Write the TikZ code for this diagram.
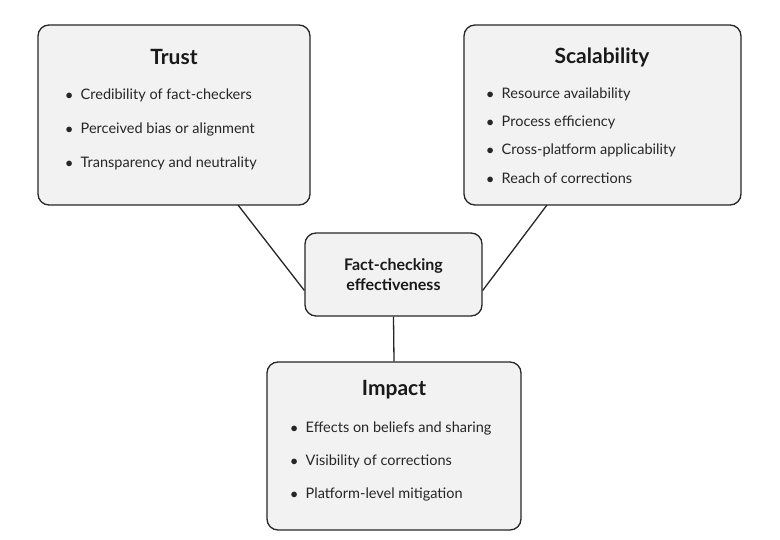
\documentclass[tikz,border=0pt]{standalone}
\usepackage{fontspec}
\setmainfont{Lato}
\begin{document}
\begin{tikzpicture}[x=1pt,y=-1pt,
 box/.style={draw=black!85,line width=1.3pt,fill=black!5,rounded corners=11pt,inner sep=0pt},
 title/.style={font=\bfseries\fontsize{21}{24}\selectfont,text=black!90},
 item/.style={font=\fontsize{14.5}{17}\selectfont,text=black!85,anchor=west},
 conn/.style={draw=black!85,line width=1.3pt}]
\useasboundingbox (0,0) rectangle (780,540);
\fill[white] (0,0) rectangle (780,540);
\node[box,minimum width=272pt,minimum height=180pt] (trust) at (174,115) {};
\node[box,minimum width=277pt,minimum height=180pt] (scal) at (602.5,115) {};
\node[box,minimum width=177pt,minimum height=83pt] (center) at (393.5,274.5) {};
\node[box,minimum width=254pt,minimum height=168pt] (impact) at (394,446) {};
\node[title] (tt) at (174,57) {Trust};
\node[title] (st) at (602,57) {Scalability};
\node[title] (it) at (394,390) {Impact};
\node[font=\bfseries\fontsize{16}{20}\selectfont,align=center,text=black!90] (ct) at (393.5,275) {Fact-checking\\effectiveness};
\foreach \n/\y/\t in {t1/95/Credibility of fact-checkers,t2/129/Perceived bias or alignment,t3/163/Transparency and neutrality}
  \node[item] (\n) at (62,\y) {$\bullet$\hspace{8pt}\t};
\foreach \n/\y/\t in {s1/94/Resource availability,s2/122/Process efficiency,s3/150/Cross-platform applicability,s4/178/Reach of corrections}
  \node[item] (\n) at (483,\y) {$\bullet$\hspace{8pt}\t};
\foreach \n/\y/\t in {i1/428/Effects on beliefs and sharing,i2/461/Visibility of corrections,i3/494/Platform-level mitigation}
  \node[item] (\n) at (287,\y) {$\bullet$\hspace{8pt}\t};
\coordinate (ta) at (238,205);
\coordinate (sa) at (547,205);
\draw[conn] (ta) -- ([yshift=-16pt]center.west);
\draw[conn] (sa) -- ([yshift=-16pt]center.east);
\draw[conn] (center.south) -- (impact.north);
\end{tikzpicture}
\end{document}
